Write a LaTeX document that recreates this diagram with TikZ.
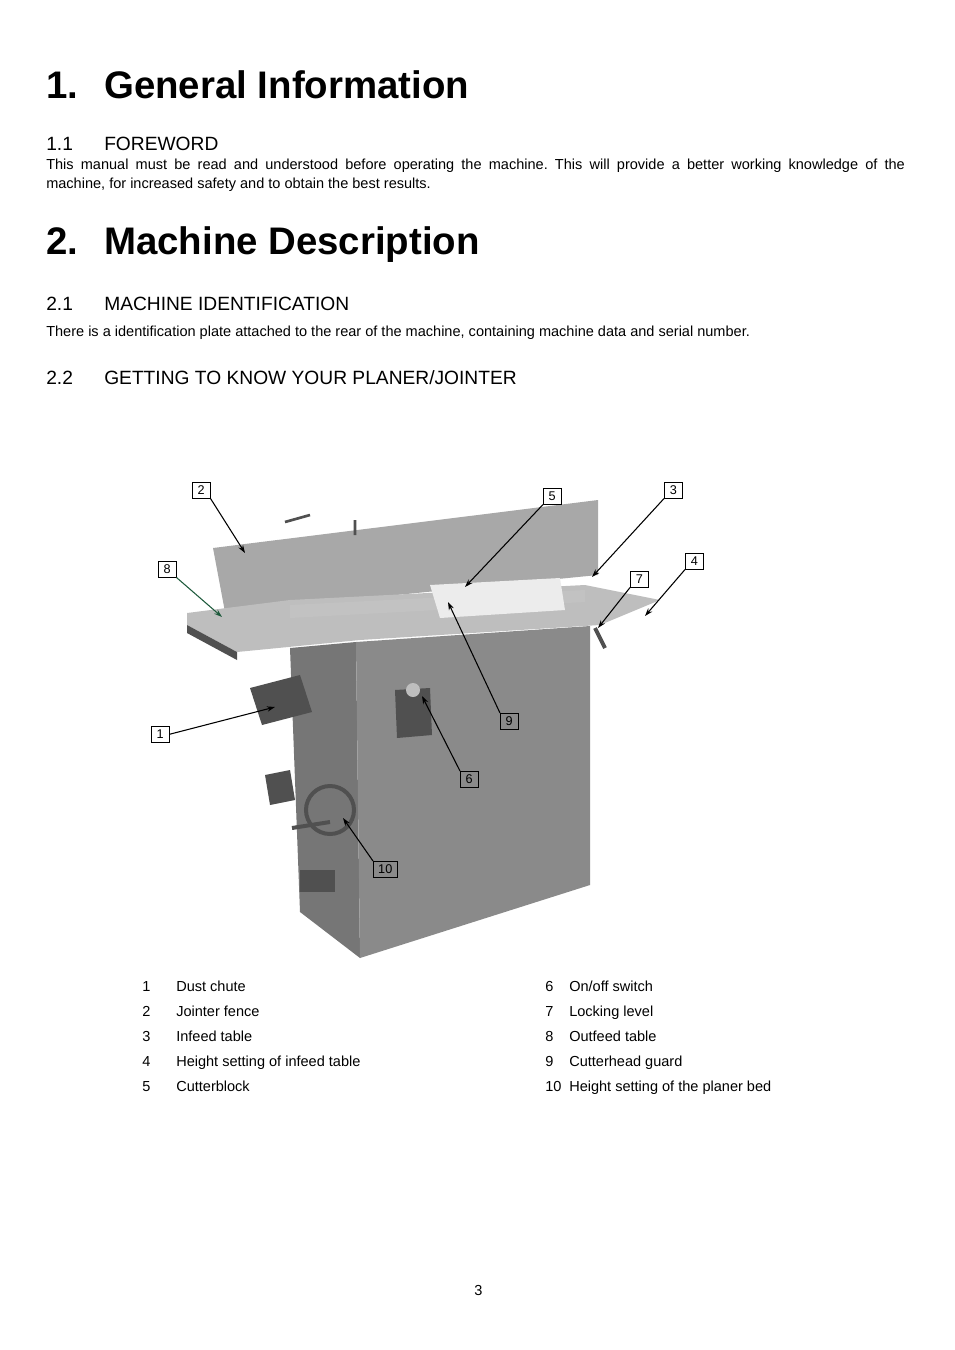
\documentclass[tikz,border=0pt]{standalone}
\usepackage{fontspec}
\setmainfont{Liberation Sans}
\frenchspacing
\usetikzlibrary{arrows.meta}
\definecolor{bodyGray}{RGB}{118,118,118}
\definecolor{darkGray}{RGB}{80,80,80}
\definecolor{fenceGray}{RGB}{168,168,168}
\definecolor{tableGray}{RGB}{190,190,190}
\definecolor{arrowGreen}{RGB}{30,90,60}
\tikzset{
  numbox/.style={draw, line width=0.4pt, anchor=north west, inner sep=1pt,
    minimum width=13.5pt, minimum height=12pt, font=\fontsize{9.5}{10}\selectfont},
  callout/.style={-{Stealth[length=6pt,width=4pt]}, line width=0.8pt},
  head/.style={anchor=base west, inner sep=0pt, font=\fontsize{28.8}{34}\selectfont\bfseries},
  subhead/.style={anchor=base west, inner sep=0pt, font=\fontsize{14.4}{17}\selectfont},
  body/.style={anchor=base west, inner sep=0pt, font=\fontsize{10.9}{12}\selectfont}
}
\begin{document}
\begin{tikzpicture}[x=0.75pt, y=-0.75pt]
  \useasboundingbox (0,0) rectangle (954,1350);

  % Titel und Text
  \node[head] (h1n) at (46,98) {1.};
  \node[head] (h1t) at (104,98) {General Information};
  \node[subhead] (s11n) at (46,150) {1.1};
  \node[subhead] (s11t) at (104,150) {FOREWORD};
  \node[body] (p1a) at (46,169) {\makebox[644pt][s]{This manual must be read and understood before operating the machine. This will provide a better working knowledge of the}};
  \node[body] (p1b) at (46,188) {machine, for increased safety and to obtain the best results.};
  \node[head] (h2n) at (46,254) {2.};
  \node[head] (h2t) at (104,254) {Machine Description};
  \node[subhead] (s21n) at (46,310) {2.1};
  \node[subhead] (s21t) at (104,310) {MACHINE IDENTIFICATION};
  \node[body] (p2) at (46,336) {There is a identification plate attached to the rear of the machine, containing machine data and serial number.};
  \node[subhead] (s22n) at (46,384) {2.2};
  \node[subhead] (s22t) at (104,384) {GETTING TO KNOW YOUR PLANER/JOINTER};

  % Maschine
  \fill[bodyGray] (290,648) -- (356,642) -- (360,958) -- (300,912) -- cycle;
  \fill[bodyGray!85] (356,642) -- (590,626) -- (590,885) -- (360,958) -- cycle;
  \fill[darkGray] (300,870) -- (335,870) -- (335,892) -- (300,892) -- cycle;
  \fill[fenceGray] (213,548) -- (598,500) -- (598,575) -- (225,612) -- cycle;
  \fill[tableGray] (187,613) -- (290,600) -- (585,585) -- (660,600) -- (600,625) -- (360,640) -- (237,652) -- (187,625) -- cycle;
  \fill[darkGray] (187,625) -- (237,652) -- (237,660) -- (187,633) -- cycle;
  \fill[fenceGray!70] (290,605) -- (585,590) -- (585,602) -- (290,618) -- cycle;
  \fill[white!85!gray] (430,585) -- (560,578) -- (565,610) -- (440,618) -- cycle;
  \fill[darkGray] (250,688) -- (300,675) -- (312,712) -- (262,725) -- cycle;
  \fill[darkGray] (395,690) -- (430,688) -- (432,735) -- (397,738) -- cycle;
  \fill[tableGray] (413,690) circle (7);
  \draw[darkGray, line width=3pt] (330,810) circle (24);
  \draw[darkGray, line width=3pt] (292,828) -- (330,822);
  \fill[darkGray] (265,775) -- (290,770) -- (295,800) -- (270,805) -- cycle;
  \draw[darkGray, line width=3pt] (595,628) -- (605,648);
  \draw[darkGray, line width=2pt] (285,522) -- (310,515) (355,520) -- (355,535);

  % Nummern
  \node[numbox] (n2) at (192,482) {2};
  \node[numbox] (n5) at (543,488) {5};
  \node[numbox] (n3) at (664,482) {3};
  \node[numbox] (n4) at (685,553) {4};
  \node[numbox] (n7) at (630,571) {7};
  \node[numbox] (n8) at (158,561) {8};
  \node[numbox] (n1) at (151,726) {1};
  \node[numbox] (n9) at (500,713) {9};
  \node[numbox] (n6) at (460,771) {6};
  \node[numbox, minimum width=18pt] (n10) at (373,861) {10};

  \coordinate (t2) at (245,553);
  \coordinate (t5) at (465,587);
  \coordinate (t3) at (592,577);
  \coordinate (t4) at (645,616);
  \coordinate (t7) at (598,628);
  \coordinate (t8) at (222,617);
  \coordinate (t1) at (275,707);
  \coordinate (t9) at (448,602);
  \coordinate (t6) at (422,696);
  \coordinate (t10) at (343,818);

  \draw[callout] (n2.south east) -- (t2);
  \draw[callout] (n5.south west) -- (t5);
  \draw[callout] (n3.south west) -- (t3);
  \draw[callout] (n4.south west) -- (t4);
  \draw[callout] (n7.south west) -- (t7);
  \draw[callout, arrowGreen] (n8.south east) -- (t8);
  \draw[callout] (n1.east) -- (t1);
  \draw[callout] (n9.north west) -- (t9);
  \draw[callout] (n6.north west) -- (t6);
  \draw[callout] (n10.north west) -- (t10);

  % Legende
  \foreach \y/\a/\ta/\b/\tb in {986/1/Dust chute/6/{On/off switch},
      1011/2/Jointer fence/7/Locking level,
      1036/3/Infeed table/8/Outfeed table,
      1061/4/Height setting of infeed table/9/Cutterhead guard,
      1086/5/Cutterblock/10/Height setting of the planer bed} {
    \node[body] (la\a) at (142,\y+5) {\a};
    \node[body] (lt\a) at (176,\y+5) {\ta};
    \node[body] (la\b) at (545,\y+5) {\b};
    \node[body] (lt\b) at (569,\y+5) {\tb};
  }
  \node[body] (page) at (474,1295) {3};
\end{tikzpicture}
\end{document}
